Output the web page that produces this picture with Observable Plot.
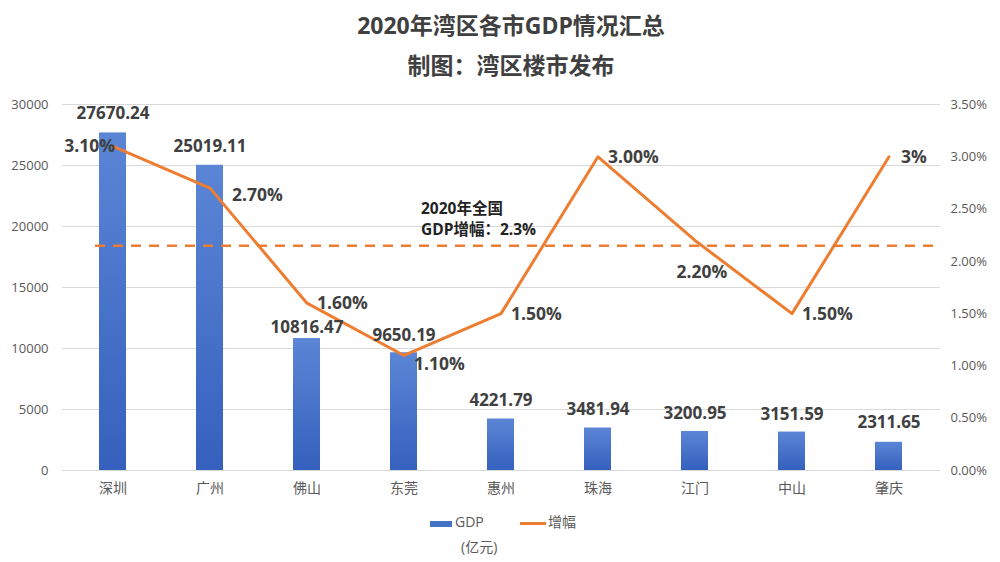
<!DOCTYPE html>
<html><head><meta charset="utf-8">
<script src="https://cdn.jsdelivr.net/npm/d3@7"></script>
<script src="https://cdn.jsdelivr.net/npm/@observablehq/plot@0.6"></script>
<style>
body{margin:0;background:#fff;font-family:"Open Sans","Noto Sans CJK SC",sans-serif;width:1000px;height:562px;overflow:hidden;position:relative}
.t{position:absolute;left:0;width:1022px;text-align:center;font-weight:bold;font-size:23px;color:#404040;font-family:"Open Sans","Noto Sans CJK SC",sans-serif}
#chart{position:absolute;left:0;top:90px}
.lg{position:absolute;font-size:14px;color:#595959;line-height:16px}
</style></head>
<body>
<div class="t" style="top:7px">2020年湾区各市GDP情况汇总</div>
<div class="t" style="top:47px">制图：湾区楼市发布</div>
<div id="chart"></div>
<div class="lg" style="left:430px;top:521px;width:22px;height:6px;background:#4472C4"></div>
<div class="lg" style="left:455px;top:514px">GDP</div>
<div class="lg" style="left:520px;top:522px;width:26px;height:3px;background:#ED7D31"></div>
<div class="lg" style="left:548px;top:514px">增幅</div>
<div class="lg" style="left:461px;top:539px">(亿元)</div>
<script>
const cities = ["深圳","广州","佛山","东莞","惠州","珠海","江门","中山","肇庆"];
const gdp = [27670.24,25019.11,10816.47,9650.19,4221.79,3481.94,3200.95,3151.59,2311.65];
const growth = [3.10,2.70,1.60,1.10,1.50,3.00,2.20,1.50,3.00];
const growthLabels = ["3.10%","2.70%","1.60%","1.10%","1.50%","3.00%","2.20%","1.50%","3%"];
const leftTicks = [0,5000,10000,15000,20000,25000,30000];
const rightTicks = [0,0.5,1,1.5,2,2.5,3,3.5];
const nationalLevel = 2.15; // where the dashed reference line is drawn
const nationalNote = ["2020年全国", "GDP增幅：2.3%"];

const k = 30000 / 3.5;
const data = cities.map((c, i) => ({city: c, gdp: gdp[i], growth: growth[i], label: growthLabels[i]}));

// label placement (layout only)
const barDy = [-19,-19,-11,-17,-18,-18,-18,-18,-20];
const lineLab = [
  {anchor:"end", dx:2, dy:0},
  {anchor:"start", dx:22, dy:7},
  {anchor:"start", dx:10, dy:0},
  {anchor:"start", dx:10, dy:9},
  {anchor:"start", dx:10, dy:1},
  {anchor:"start", dx:10, dy:1},
  {anchor:"middle", dx:7, dy:32},
  {anchor:"start", dx:10, dy:1},
  {anchor:"start", dx:12, dy:1}
];
const noteDy = [-37, -16];

const font = '"Open Sans","Noto Sans CJK SC",sans-serif';
const marks = [
  Plot.gridY(leftTicks, {stroke:"#d9d9d9", strokeOpacity:1}),
  Plot.barY(data, {x:"city", y:"gdp", fill:"url(#barGrad)"}),
  Plot.ruleY([nationalLevel * k], {stroke:"#ED7D31", strokeWidth:2.5, strokeDasharray:"10,8", insetLeft:33}),
  Plot.line(data, {x:"city", y: d => d.growth * k, stroke:"#ED7D31", strokeWidth:3, strokeLinejoin:"round"}),
  Plot.axisY(leftTicks, {anchor:"left", label:null, tickSize:0, tickPadding:14, fontSize:13, fill:"#595959", tickFormat: d => String(d)}),
  Plot.axisY(rightTicks.map(v => v * k), {anchor:"right", label:null, tickSize:0, tickPadding:10, fontSize:13, fill:"#595959", tickFormat: d => (d / k).toFixed(2) + "%"}),
  Plot.axisX({label:null, tickSize:0, tickPadding:13, fontSize:14, fill:"#595959"})
];
nationalNote.forEach((t, i) => {
  marks.push(Plot.text([t], {x: () => "东莞", y: () => nationalLevel * k, text: d => d, textAnchor:"start", dx:17, dy: noteDy[i], fontSize:15.5, fontWeight:"bold", fill:"#222"}));
});
data.forEach((d, i) => {
  marks.push(Plot.text([d], {x:"city", y:"gdp", text: d => d.gdp.toFixed(2), dy: barDy[i], fontSize:17, fontWeight:"bold", fill:"#404040"}));
  const L = lineLab[i];
  marks.push(Plot.text([d], {x:"city", y: d => d.growth * k, text:"label", textAnchor:L.anchor, dx:L.dx, dy:L.dy, fontSize:17.5, fontWeight:"bold", fill:"#404040"}));
});

const chart = Plot.plot({
  width: 1000,
  height: 410,
  marginTop: 14,
  marginBottom: 30,
  marginLeft: 62,
  marginRight: 60,
  style: {fontFamily: font, background: "transparent"},
  x: {domain: cities, paddingInner: 0.72, paddingOuter: 0.36, label: null},
  y: {domain: [0, 30000], label: null},
  marks
});
const ns = "http://www.w3.org/2000/svg";
const defs = document.createElementNS(ns, "defs");
defs.innerHTML = '<linearGradient id="barGrad" x1="0" y1="0" x2="0" y2="1"><stop offset="0" stop-color="#5b86d6"/><stop offset="1" stop-color="#3560bd"/></linearGradient>';
chart.insertBefore(defs, chart.firstChild);
document.getElementById("chart").appendChild(chart);
</script>
</body></html>
